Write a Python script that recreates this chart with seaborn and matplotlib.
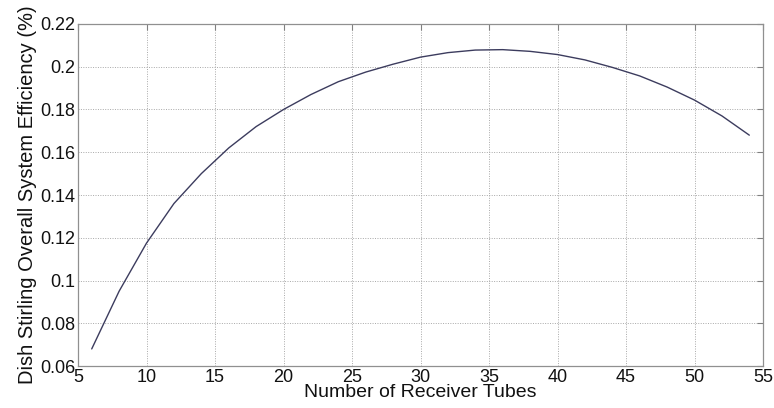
import matplotlib
matplotlib.use("Agg")
import matplotlib.pyplot as plt
import seaborn as sns
import pandas as pd

# Number of receiver tubes and the resulting overall system efficiency
tubes = [6, 8, 10, 12, 14, 16, 18, 20, 22, 24, 26, 28, 30,
         32, 34, 36, 38, 40, 42, 44, 46, 48, 50, 52, 54]
efficiency = [0.068, 0.095, 0.1175, 0.136, 0.150, 0.162, 0.172, 0.180,
              0.187, 0.193, 0.1975, 0.2012, 0.2045, 0.2066, 0.2078, 0.2080,
              0.2072, 0.2057, 0.2032, 0.1997, 0.1957, 0.1905, 0.1844,
              0.1770, 0.168]

x_ticks = [5, 10, 15, 20, 25, 30, 35, 40, 45, 50, 55]
y_ticks = [0.06, 0.08, 0.1, 0.12, 0.14, 0.16, 0.18, 0.2, 0.22]
y_tick_labels = ["0.06", "0.08", "0.1", "0.12", "0.14", "0.16", "0.18", "0.2", "0.22"]

df = pd.DataFrame({"tubes": tubes, "efficiency": efficiency})

sns.set_style("white")
plt.rcParams["font.family"] = ["Liberation Sans", "DejaVu Sans"]

fig = plt.figure(figsize=(7.74, 4.08), dpi=100)
ax = fig.add_axes([0.1008, 0.1029, 0.885, 0.8383])

sns.lineplot(data=df, x="tubes", y="efficiency", ax=ax,
             color="#3c3c5e", linewidth=1.0)

ax.set_xlim(5, 55)
ax.set_ylim(0.06, 0.22)
ax.set_xticks(x_ticks)
ax.set_yticks(y_ticks)
ax.set_yticklabels(y_tick_labels)
ax.tick_params(direction="in", length=4, width=0.8, colors="#808080",
               labelcolor="#111111", labelsize=13, top=True, right=True,
               pad=2)
ax.grid(True, linestyle=(0, (1, 1.5)), color="#a8a8a8", linewidth=0.7)
for s in ax.spines.values():
    s.set_color("#909090")
    s.set_linewidth(0.9)

ax.set_xlabel("Number of Receiver Tubes", fontsize=14, labelpad=-1,
              color="#111111")
ax.set_ylabel("Dish Stirling Overall System Efficiency (%)", fontsize=14.5,
              labelpad=2, color="#111111")

fig.savefig("out.png", dpi=100)
